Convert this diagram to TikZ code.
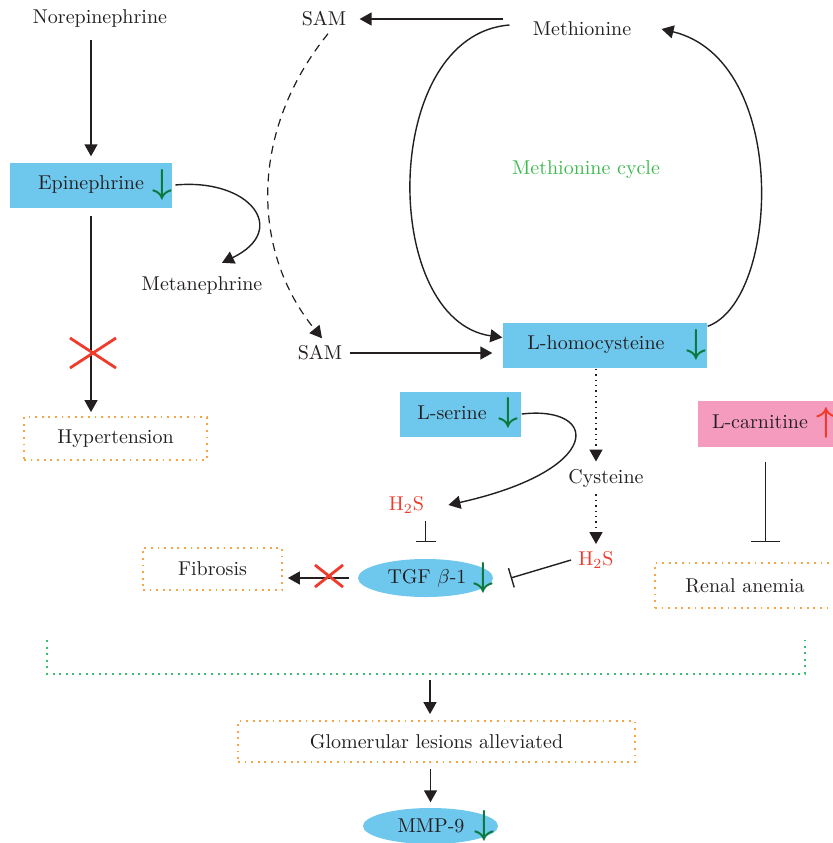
\documentclass[tikz,border=0pt]{standalone}
\usepackage{amsmath}
\usepackage{amssymb}
\usetikzlibrary{arrows.meta,shapes.geometric}

\definecolor{boxblue}{HTML}{6EC7EC}
\definecolor{boxpink}{HTML}{F49BBE}
\definecolor{dngreen}{HTML}{0B7A3C}
\definecolor{upred}{HTML}{EE3B2B}
\definecolor{dotorange}{HTML}{F6A544}
\definecolor{dotgreen}{HTML}{3DBE72}
\definecolor{cyclegreen}{HTML}{3DBA4E}
\definecolor{txtgray}{HTML}{231F20}

\newcommand{\dnarrow}{\textcolor{dngreen}{\LARGE$\boldsymbol{\downarrow}$}}
\newcommand{\uparrowred}{\textcolor{upred}{\LARGE$\boldsymbol{\uparrow}$}}

\begin{document}
\begin{tikzpicture}[x=0.5pt, y=-0.5pt, color=txtgray, line width=0.7pt,
  >={Triangle[length=6pt,width=6.5pt]},
  every node/.style={font=\fontsize{10}{12}\selectfont},
  bluebox/.style={fill=boxblue, inner sep=0pt},
  pinkbox/.style={fill=boxpink, inner sep=0pt},
  blueoval/.style={ellipse, fill=boxblue, inner sep=0pt},
  dotbox/.style={draw=dotorange, line width=0.9pt, dash pattern=on 0.9pt off 2.4pt, inner sep=0pt},
  dashline/.style={line width=0.6pt, dash pattern=on 4pt off 3pt},
  dotline/.style={line width=0.8pt, dash pattern=on 0.7pt off 2pt},
  bracketline/.style={draw=dotgreen, line width=1pt, dash pattern=on 1pt off 2.3pt},
  redcross/.style={draw=upred, line width=1.4pt},
]
\useasboundingbox (0,0) rectangle (833,843);

\node (norepi_text) at (100,18) {Norepinephrine};
\node[bluebox, minimum width=81pt, minimum height=22.5pt] (epi_box) at (91,185.5) {};
\node (epi_text) at (91,184) {Epinephrine};
\node (epi_arrow) at (162,185) {\dnarrow};
\node (meta_text) at (202,285) {Metanephrine};
\node[dotbox, minimum width=91.5pt, minimum height=21.5pt] (hyper_box) at (115.5,438.5) {Hypertension};

\node (sam_top) at (324,19) {SAM};
\node (methio_text) at (582,29) {Methionine};
\node[text=cyclegreen] (cycle_text) at (586,170) {Methionine cycle};
\node (sam_bot) at (320,353) {SAM};
\node[bluebox, minimum width=102pt, minimum height=22.5pt] (homocys_box) at (605,345.5) {};
\node (homocys_text) at (596,345) {L-homocysteine};
\node (homocys_arrow) at (696,345) {\dnarrow};

\node[bluebox, minimum width=60.5pt, minimum height=22.5pt] (serine_box) at (460.5,414) {};
\node (serine_text) at (452,413) {L-serine};
\node (serine_arrow) at (508,413) {\dnarrow};
\node (cys_text) at (606,478) {Cysteine};
\node[text=upred] (h2s_left) at (406.5,505) {H$_2$S};
\node[text=upred] (h2s_right) at (596,560) {H$_2$S};

\node[blueoval, minimum width=67.5pt, minimum height=19pt] (tgf_oval) at (425.5,578) {};
\node (tgf_text) at (427,578) {TGF $\beta$-1};
\node (tgf_arrow) at (483,578) {\dnarrow};
\node[dotbox, minimum width=69.5pt, minimum height=21pt] (fib_box) at (212.5,569) {Fibrosis};

\node[pinkbox, minimum width=67.5pt, minimum height=23pt] (carn_box) at (765.5,424) {};
\node (carn_text) at (760,422) {L-carnitine};
\node (carn_arrow) at (826,423) {\uparrowred};
\node[dotbox, minimum width=90pt, minimum height=22.5pt] (renal_box) at (745,585.5) {Renal anemia};

\coordinate (bracket_mid) at (430,680);
\node[dotbox, minimum width=198.5pt, minimum height=20.5pt] (glom_box) at (436.5,741.5) {Glomerular lesions alleviated};
\node[blueoval, minimum width=67.5pt, minimum height=18pt] (mmp_oval) at (430.5,826) {};
\node (mmp_text) at (431,826) {MMP-9};
\node (mmp_arrow) at (484,826) {\dnarrow};

\draw[->, shorten <=3pt, shorten >=3pt] (norepi_text.south -| epi_box.north) -- (epi_box.north);
\draw[->] ([xshift=-2pt]epi_arrow.east) .. controls (250,178) and (290,230) .. ([xshift=10pt,yshift=3pt]meta_text.north);
\draw[->, shorten <=3.5pt, shorten >=2pt] (epi_box.south) -- (epi_box.south |- hyper_box.north);
\draw[redcross] (70,338) -- (116,368);
\draw[redcross] (70,368) -- (116,338);

\draw[->] ([xshift=-11pt]methio_text.west |- sam_top) -- ([xshift=3pt]sam_top.east);
\draw[->] ([xshift=-8pt,yshift=2pt]methio_text.west) .. controls (380,35) and (380,320) .. ([yshift=4pt]homocys_box.west);
\draw[->] ([yshift=-2pt]homocys_box.north east) .. controls (780,300) and (790,60) .. ([xshift=11.5pt]methio_text.east);
\draw[->, dashline] ([xshift=2pt]sam_top.south) .. controls (250,130) and (250,250) .. ([xshift=1pt]sam_bot.north);
\draw[->, shorten >=5pt] (sam_bot.east) -- (sam_bot.east -| homocys_box.west);

\draw[->, dotline] (homocys_box.south -| h2s_right) -- (h2s_right |- cys_text.north);
\draw[->, dotline] (h2s_right |- cys_text.south) -- (h2s_right.north);
\draw[->] ([xshift=0pt]serine_box.east) .. controls (600,405) and (605,470) .. ([xshift=8.5pt]h2s_left.east);
\draw[-{Bar[width=10pt]}] (h2s_left.south -| tgf_oval.north) -- ([yshift=8pt]tgf_oval.north);
\draw[-{Bar[width=10pt]}] (h2s_right.west) -- ([xshift=8.5pt]tgf_oval.east);
\draw[->] ([xshift=-4pt]tgf_oval.west) -- ([xshift=2.5pt]fib_box.east |- tgf_oval.west);
\draw[redcross] (315,565) -- (343,587);
\draw[redcross] (315,587) -- (343,565);

\draw[-{Bar[width=14.5pt]}] ([yshift=-7pt]carn_box.south) -- ([yshift=10pt]renal_box.north -| carn_box.south);

\draw[bracketline] (47,640) -- (47,674) -- (805,674) -- (805,640);
\draw[->, shorten >=3pt] (bracket_mid) -- (bracket_mid |- glom_box.north);
\draw[->, shorten <=3pt, shorten >=2.5pt] (glom_box.south -| mmp_oval.north) -- (mmp_oval.north);
\end{tikzpicture}
\end{document}
